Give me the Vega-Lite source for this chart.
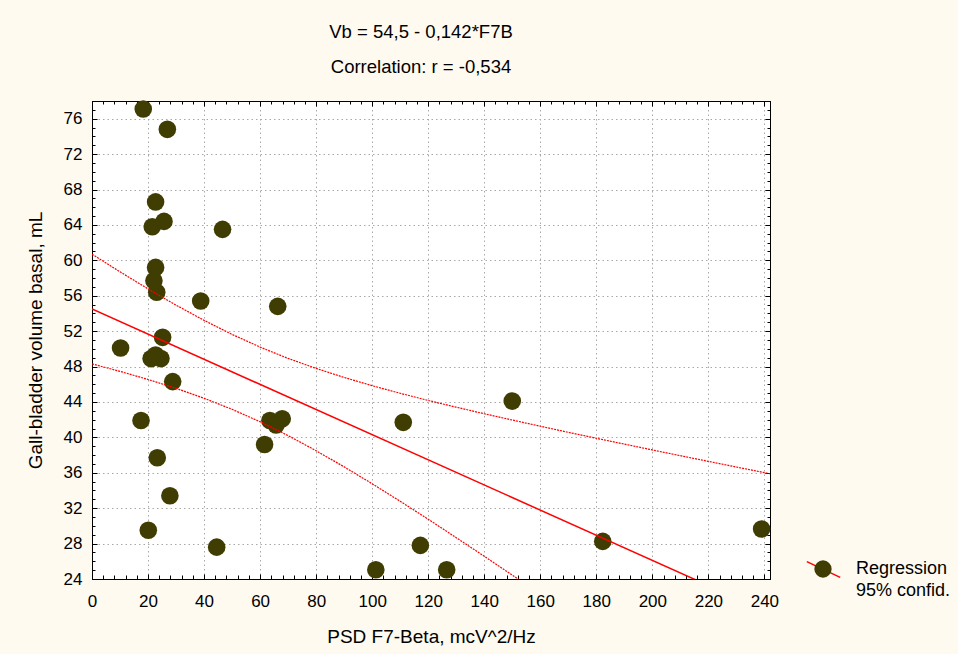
{
  "$schema": "https://vega.github.io/schema/vega-lite/v6.json",
  "width": 678,
  "height": 478,
  "autosize": {"type": "none"},
  "padding": {"left": 92, "top": 101, "right": 188, "bottom": 75},
  "background": "#FEFAF0",
  "config": {
    "font": "Liberation Sans",
    "view": {"stroke": "#000000", "strokeWidth": 1, "fill": "#FFFFFF"},
    "axis": {
      "labelFont": "Liberation Sans",
      "labelFontSize": 17,
      "labelColor": "#000000",
      "tickColor": "#000000",
      "tickWidth": 1,
      "domainColor": "#000000",
      "domainWidth": 1,
      "titleFont": "Liberation Sans",
      "titleFontWeight": "normal",
      "titleColor": "#000000",
      "titleFontSize": 19,
      "labelFlush": false,
      "labelOverlap": false,
      "labelBound": false,
      "gridColor": "#A8A8A8",
      "gridDash": [1.5, 3],
      "gridWidth": 1
    }
  },
  "title": {
    "text": ["Vb = 54,5 - 0,142*F7B", "Correlation: r = -0,534"],
    "font": "Liberation Sans",
    "fontSize": 18.5,
    "fontWeight": "normal",
    "color": "#000000",
    "lineHeight": 34.5,
    "offset": 16,
    "dx": -10
  },
  "datasets": {
    "pts": [
      {"x": 18.3, "y": 77.1}, {"x": 26.9, "y": 74.8}, {"x": 22.7, "y": 66.6}, {"x": 21.5, "y": 63.8},
      {"x": 25.7, "y": 64.4}, {"x": 46.6, "y": 63.5}, {"x": 22.7, "y": 59.2}, {"x": 22.1, "y": 57.7},
      {"x": 23.1, "y": 56.4}, {"x": 38.8, "y": 55.4}, {"x": 66.3, "y": 54.8}, {"x": 25.2, "y": 51.3},
      {"x": 10.2, "y": 50.1}, {"x": 21.1, "y": 48.9}, {"x": 22.7, "y": 49.3}, {"x": 24.6, "y": 48.9},
      {"x": 28.8, "y": 46.3}, {"x": 17.5, "y": 41.9}, {"x": 23.3, "y": 37.7}, {"x": 27.8, "y": 33.4},
      {"x": 20.1, "y": 29.5}, {"x": 44.5, "y": 27.6}, {"x": 63.5, "y": 41.9}, {"x": 67.9, "y": 42.1},
      {"x": 65.7, "y": 41.4}, {"x": 61.6, "y": 39.2}, {"x": 111.1, "y": 41.7}, {"x": 150.0, "y": 44.1},
      {"x": 101.3, "y": 25.05}, {"x": 126.6, "y": 25.05}, {"x": 117.2, "y": 27.8}, {"x": 182.3, "y": 28.25},
      {"x": 239.0, "y": 29.65}
    ],
    "reg": [{"x": 0, "y": 54.5}, {"x": 242, "y": 20.14}],
    "band": [
      {"x": 0, "hi": 60.70, "lo": 48.30}, {"x": 10, "hi": 58.70, "lo": 47.46},
      {"x": 20, "hi": 56.78, "lo": 46.54}, {"x": 30, "hi": 54.94, "lo": 45.54},
      {"x": 40, "hi": 53.22, "lo": 44.42}, {"x": 50, "hi": 51.63, "lo": 43.17},
      {"x": 60, "hi": 50.20, "lo": 41.76}, {"x": 70, "hi": 48.92, "lo": 40.20},
      {"x": 80, "hi": 47.79, "lo": 38.49}, {"x": 90, "hi": 46.77, "lo": 36.67},
      {"x": 100, "hi": 45.84, "lo": 34.76}, {"x": 110, "hi": 44.98, "lo": 32.78},
      {"x": 120, "hi": 44.17, "lo": 30.75}, {"x": 130, "hi": 43.41, "lo": 28.67},
      {"x": 140, "hi": 42.67, "lo": 26.57}, {"x": 150, "hi": 41.96, "lo": 24.44},
      {"x": 160, "hi": 41.26, "lo": 22.30}, {"x": 170, "hi": 40.57, "lo": 20.15},
      {"x": 180, "hi": 39.90, "lo": 17.98}, {"x": 190, "hi": 39.24, "lo": 15.80},
      {"x": 200, "hi": 38.58, "lo": 13.62}, {"x": 210, "hi": 37.93, "lo": 11.43},
      {"x": 220, "hi": 37.29, "lo": 9.23}, {"x": 230, "hi": 36.65, "lo": 7.03},
      {"x": 242, "hi": 35.89, "lo": 4.39}
    ]
  },
  "resolve": {"axis": {"x": "independent", "y": "independent"}},
  "layer": [
    {
      "data": {"name": "pts"},
      "mark": {"type": "circle", "size": 310, "opacity": 1},
      "encoding": {
        "x": {
          "field": "x", "type": "quantitative",
          "scale": {"domain": [0, 242], "nice": false, "zero": false},
          "axis": {
            "orient": "bottom",
            "values": [0,4,8,12,16,20,24,28,32,36,40,44,48,52,56,60,64,68,72,76,80,84,88,92,96,100,104,108,112,116,120,124,128,132,136,140,144,148,152,156,160,164,168,172,176,180,184,188,192,196,200,204,208,212,216,220,224,228,232,236,240],
            "labelExpr": "datum.value % 20 == 0 ? datum.label : ''",
            "tickSize": -4,
            "labelPadding": 18,
            "grid": false,
            "domain": true,
            "title": "PSD F7-Beta, mcV^2/Hz",
            "titlePadding": 18
          }
        },
        "y": {
          "field": "y", "type": "quantitative",
          "scale": {"domain": [24, 78], "nice": false, "zero": false},
          "axis": {
            "orient": "left",
            "values": [24,25,26,27,28,29,30,31,32,33,34,35,36,37,38,39,40,41,42,43,44,45,46,47,48,49,50,51,52,53,54,55,56,57,58,59,60,61,62,63,64,65,66,67,68,69,70,71,72,73,74,75,76,77,78],
            "labelExpr": "datum.value % 4 == 0 ? datum.label : ''",
            "tickSize": -3,
            "labelPadding": 13,
            "grid": false,
            "domain": true,
            "title": "Gall-bladder volume basal, mL",
            "titlePadding": 18
          }
        },
        "color": {
          "datum": "Regression", "type": "nominal",
          "scale": {"range": ["#403D02"]},
          "legend": {
            "orient": "none",
            "legendX": 722,
            "legendY": 459,
            "title": ["Regression", "95% confid."],
            "titleOrient": "right",
            "titleAnchor": "start",
            "titleBaseline": "top",
            "titleFont": "Liberation Sans",
            "titleFontSize": 18,
            "titleFontWeight": "normal",
            "titleColor": "#000000",
            "titleLineHeight": 21.7,
            "titlePadding": 24,
            "titleLimit": 0,
            "padding": 0,
            "zindex": 2,
            "symbolType": "circle",
            "symbolSize": 300,
            "symbolStrokeWidth": 0,
            "labelExpr": "''",
            "labelOffset": 0
          }
        }
      }
    },
    {
      "data": {"name": "reg"},
      "mark": {"type": "line", "color": "#FF0000", "strokeWidth": 1.5, "clip": true},
      "encoding": {
        "x": {
          "field": "x", "type": "quantitative",
          "scale": {"domain": [0, 242], "nice": false, "zero": false},
          "axis": {
            "orient": "top",
            "values": [0,20,40,60,80,100,120,140,160,180,200,220,240],
            "labels": false, "tickSize": -5, "grid": true, "domain": true, "title": null
          }
        },
        "y": {
          "field": "y", "type": "quantitative",
          "scale": {"domain": [24, 78], "nice": false, "zero": false},
          "axis": {
            "orient": "right",
            "values": [24,28,32,36,40,44,48,52,56,60,64,68,72,76],
            "labels": false, "tickSize": -5, "grid": true, "domain": true, "title": null
          }
        },
        "stroke": {
          "datum": "R", "type": "nominal",
          "scale": {"range": ["#FF0000"]},
          "legend": {
            "orient": "none",
            "legendX": 714,
            "legendY": 451,
            "title": null,
            "padding": 0,
            "zindex": 1,
            "symbolType": "M-1,-0.47L1,0.47",
            "symbolSize": 1110,
            "symbolStrokeWidth": 1.5,
            "labelExpr": "''"
          }
        }
      }
    },
    {
      "data": {"name": "band"},
      "mark": {"type": "line", "color": "#FF0000", "strokeWidth": 1.2, "strokeDash": [2, 1], "clip": true},
      "encoding": {
        "x": {
          "field": "x", "type": "quantitative",
          "scale": {"domain": [0, 242], "nice": false, "zero": false},
          "axis": {
            "orient": "top",
            "values": [0,4,8,12,16,20,24,28,32,36,40,44,48,52,56,60,64,68,72,76,80,84,88,92,96,100,104,108,112,116,120,124,128,132,136,140,144,148,152,156,160,164,168,172,176,180,184,188,192,196,200,204,208,212,216,220,224,228,232,236,240],
            "labels": false, "tickSize": -3, "grid": false, "domain": false, "title": null
          }
        },
        "y": {
          "field": "hi", "type": "quantitative",
          "scale": {"domain": [24, 78], "nice": false, "zero": false},
          "axis": {
            "orient": "right",
            "values": [24,25,26,27,28,29,30,31,32,33,34,35,36,37,38,39,40,41,42,43,44,45,46,47,48,49,50,51,52,53,54,55,56,57,58,59,60,61,62,63,64,65,66,67,68,69,70,71,72,73,74,75,76,77,78],
            "labels": false, "tickSize": -3, "grid": false, "domain": false, "title": null
          }
        }
      }
    },
    {
      "data": {"name": "band"},
      "mark": {"type": "line", "color": "#FF0000", "strokeWidth": 1.2, "strokeDash": [2, 1], "clip": true},
      "encoding": {
        "x": {
          "field": "x", "type": "quantitative",
          "scale": {"domain": [0, 242], "nice": false, "zero": false},
          "axis": {
            "orient": "bottom",
            "values": [0,20,40,60,80,100,120,140,160,180,200,220,240],
            "labels": false, "tickSize": -5, "grid": false, "domain": false, "title": null
          }
        },
        "y": {
          "field": "lo", "type": "quantitative",
          "scale": {"domain": [24, 78], "nice": false, "zero": false},
          "axis": {
            "orient": "left",
            "values": [24,28,32,36,40,44,48,52,56,60,64,68,72,76],
            "labels": false, "tickSize": -5, "grid": false, "domain": false, "title": null
          }
        }
      }
    }
  ]
}
